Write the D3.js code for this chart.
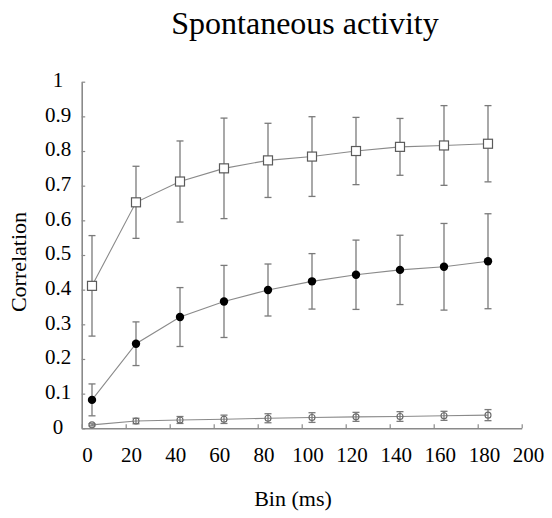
<!DOCTYPE html>
<html><head><meta charset="utf-8">
<script src="https://cdn.jsdelivr.net/npm/d3@7"></script>
<style>body{margin:0;background:#fff}svg{display:block}</style>
</head><body><svg id="c" width="552" height="518"></svg>
<script>
const bins = [0, 20, 40, 60, 80, 100, 120, 140, 160, 180];
const xTicks = [0, 20, 40, 60, 80, 100, 120, 140, 160, 180, 200];
const xTickLabels = ["0","20","40","60","80","100","120","140","160","180","200"];
const yTicks = [0, 0.1, 0.2, 0.3, 0.4, 0.5, 0.6, 0.7, 0.8, 0.9, 1];
const yTickLabels = ["0","0.1","0.2","0.3","0.4","0.5","0.6","0.7","0.8","0.9","1"];

const squareMean = [0.411, 0.652, 0.712, 0.750, 0.773, 0.784, 0.800, 0.812, 0.816, 0.821];
const squareErr  = [0.145, 0.104, 0.117, 0.145, 0.107, 0.115, 0.097, 0.082, 0.115, 0.110];
const filledMean = [0.082, 0.244, 0.321, 0.366, 0.399, 0.424, 0.443, 0.457, 0.466, 0.482];
const filledErr  = [0.046, 0.063, 0.085, 0.104, 0.075, 0.080, 0.100, 0.100, 0.125, 0.137];
const openMean   = [0.010, 0.021, 0.024, 0.026, 0.029, 0.031, 0.033, 0.034, 0.036, 0.038];
const openErr    = [0.003, 0.008, 0.010, 0.012, 0.013, 0.014, 0.013, 0.014, 0.013, 0.016];

const title = "Spontaneous activity";
const xTitle = "Bin (ms)";
const yTitle = "Correlation";

const svg = d3.select("#c");
const font = "'Liberation Serif','Times New Roman',serif";
const axisColor = "#8a8a8a";

// data scale (points), label scale, tick-mark scale (axis line & tick marks)
const x = d3.scaleLinear().domain([0, 200]).range([92, 532]);
const xl = d3.scaleLinear().domain([0, 200]).range([87, 528]);
const xt = d3.scaleLinear().domain([0, 200]).range([81.7, 521.7]);
const y = d3.scaleLinear().domain([0, 1]).range([428.3, 81.7]);

// title
svg.append("text").attr("x", 305).attr("y", 34).attr("text-anchor", "middle")
  .attr("font-family", font).attr("font-size", 32).attr("fill", "#000").text(title);

// x axis line + ticks
const gxt = svg.append("g").attr("transform", `translate(0,${y(0)})`)
  .call(d3.axisBottom(xt).tickValues(xTicks).tickSizeInner(-4).tickSizeOuter(0).tickFormat(""));
gxt.select(".domain").attr("stroke", axisColor).attr("stroke-width", 1.6);
gxt.selectAll(".tick line").attr("stroke", axisColor).attr("stroke-width", 1.2);

// x labels
const gxl = svg.append("g").attr("transform", "translate(0,447)")
  .call(d3.axisBottom(xl).tickValues(xTicks).tickSize(0).tickPadding(0)
    .tickFormat((d, i) => xTickLabels[i]));
gxl.select(".domain").remove();
gxl.selectAll("text").attr("font-family", font).attr("font-size", 21).attr("fill", "#000");

// y axis line + ticks
const gy = svg.append("g").attr("transform", `translate(${xt(0)},0)`)
  .call(d3.axisLeft(y).tickValues(yTicks).tickSizeInner(-3.5).tickSizeOuter(0).tickFormat(""));
gy.select(".domain").attr("stroke", axisColor).attr("stroke-width", 1.6);
gy.selectAll(".tick line").attr("stroke", axisColor).attr("stroke-width", 1.2);

// y labels
const gyl = svg.append("g").attr("transform", "translate(58,-2)")
  .call(d3.axisLeft(y).tickValues(yTicks).tickSize(0).tickPadding(0)
    .tickFormat((d, i) => yTickLabels[i]));
gyl.select(".domain").remove();
gyl.selectAll("text").attr("text-anchor", "middle").attr("x", 0)
  .attr("font-family", font).attr("font-size", 21).attr("fill", "#000");

// axis titles
svg.append("text").attr("x", 293).attr("y", 506).attr("text-anchor", "middle")
  .attr("font-family", font).attr("font-size", 22).attr("fill", "#000").text(xTitle);
svg.append("text").attr("transform", "translate(26,262) rotate(-90)").attr("text-anchor", "middle")
  .attr("font-family", font).attr("font-size", 22).attr("fill", "#000").text(yTitle);

const series = [
  {mean: openMean, err: openErr, type: "open"},
  {mean: filledMean, err: filledErr, type: "filled"},
  {mean: squareMean, err: squareErr, type: "square"}
];

const line = d3.line().x(d => x(d.b)).y(d => y(d.m));
const capW = 3.5;

series.forEach(s => {
  const pts = bins.map((b, i) => ({b, m: s.mean[i], e: s.err[i]}));
  svg.append("path").datum(pts).attr("d", line).attr("fill", "none")
    .attr("stroke", "#8a8a8a").attr("stroke-width", 1.1);
  const eb = svg.append("g").attr("stroke", "#7a7a7a").attr("stroke-width", 1.3).attr("fill", "none");
  pts.forEach(p => {
    eb.append("line").attr("x1", x(p.b)).attr("x2", x(p.b)).attr("y1", y(p.m + p.e)).attr("y2", y(p.m - p.e));
    eb.append("line").attr("x1", x(p.b) - capW).attr("x2", x(p.b) + capW).attr("y1", y(p.m + p.e)).attr("y2", y(p.m + p.e));
    eb.append("line").attr("x1", x(p.b) - capW).attr("x2", x(p.b) + capW).attr("y1", y(p.m - p.e)).attr("y2", y(p.m - p.e));
  });
  const g = svg.append("g");
  if (s.type === "square") {
    g.selectAll("rect").data(pts).join("rect")
      .attr("x", d => x(d.b) - 4.5).attr("y", d => y(d.m) - 4.5)
      .attr("width", 9).attr("height", 9)
      .attr("fill", "#fff").attr("stroke", "#5a5a5a").attr("stroke-width", 1.2);
  } else if (s.type === "filled") {
    g.selectAll("circle").data(pts).join("circle")
      .attr("cx", d => x(d.b)).attr("cy", d => y(d.m)).attr("r", 4.2)
      .attr("fill", "#000");
  } else {
    g.selectAll("circle").data(pts).join("circle")
      .attr("cx", d => x(d.b)).attr("cy", d => y(d.m)).attr("r", 3)
      .attr("fill", "none").attr("stroke", "#6a6a6a").attr("stroke-width", 1.1);
  }
});
</script></body></html>
